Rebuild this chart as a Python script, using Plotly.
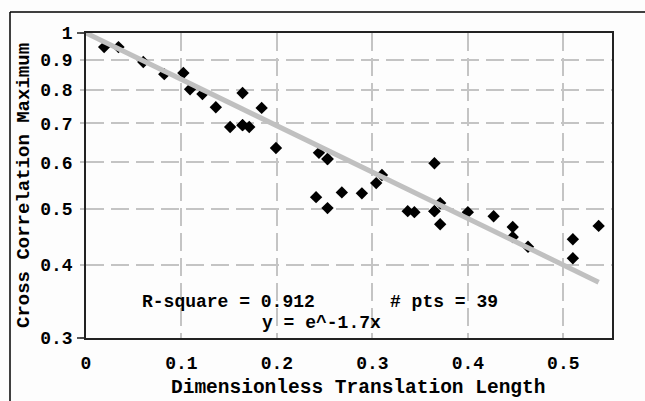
import plotly.graph_objects as go

# Scatter data
pts_x = [0.019, 0.034, 0.060, 0.082, 0.102, 0.109, 0.122, 0.136, 0.151, 0.164,
         0.164, 0.171, 0.184, 0.199, 0.244, 0.253, 0.241, 0.253, 0.268, 0.289,
         0.304, 0.310, 0.337, 0.344, 0.365, 0.365, 0.371, 0.371, 0.400, 0.427,
         0.447, 0.447, 0.463, 0.510, 0.510, 0.537, 0.365, 0.164, 0.253]
pts_y = [0.946, 0.946, 0.892, 0.850, 0.854, 0.801, 0.786, 0.746, 0.690, 0.789,
         0.695, 0.690, 0.744, 0.635, 0.623, 0.608, 0.523, 0.501, 0.533, 0.531,
         0.553, 0.571, 0.495, 0.493, 0.598, 0.495, 0.511, 0.470, 0.493, 0.485,
         0.465, 0.447, 0.430, 0.443, 0.411, 0.467, 0.495, 0.695, 0.608]

# Fitted curve end points
fit_x = [0.0, 0.537]
fit_y = [1.0, 0.374]

x_ticks = [0, 0.1, 0.2, 0.3, 0.4, 0.5]
x_tick_labels = ["0", "0.1", "0.2", "0.3", "0.4", "0.5"]
y_ticks = [0.3, 0.4, 0.5, 0.6, 0.7, 0.8, 0.9, 1]
y_tick_labels = ["0.3", "0.4", "0.5", "0.6", "0.7", "0.8", "0.9", "1"]

FONT = "Liberation Mono"
W, H = 645, 401
L, R, T, B = 86, 612, 33, 338


def px(xp):
    return (xp - L) / (R - L)


def py(yp):
    return (B - yp) / (B - T)


fig = go.Figure()
fig.add_trace(go.Scatter(x=pts_x, y=pts_y, mode="markers",
                         marker=dict(symbol="diamond", size=9.5, color="black"),
                         showlegend=False))
fig.add_trace(go.Scatter(x=fit_x, y=fit_y, mode="lines",
                         line=dict(color="#c0c0c0", width=5),
                         showlegend=False))

grid = dict(showgrid=True, gridcolor="#c4c4c4", gridwidth=2, griddash="18px,7px")

fig.update_xaxes(range=[0, 0.551], tickvals=x_ticks, ticktext=x_tick_labels,
                 showline=True, linecolor="#222", linewidth=1.5, mirror=True,
                 zeroline=False, ticks="", ticklabelstandoff=8, automargin=False,
                 tickfont=dict(family=FONT, size=18, color="black", weight="bold"),
                 **grid)
fig.update_yaxes(type="log", range=[-0.5229, 0], tickvals=y_ticks, ticktext=y_tick_labels,
                 showline=True, linecolor="#222", linewidth=1.5, mirror=True,
                 zeroline=False, ticks="outside", ticklen=4, tickcolor="#c4c4c4", tickwidth=2,
                 ticklabelstandoff=4, automargin=False,
                 tickfont=dict(family=FONT, size=18, color="black", weight="bold"),
                 title=dict(text="Cross Correlation Maximum", standoff=6,
                            font=dict(family=FONT, size=19, color="black", weight="bold")),
                 **grid)

tfont = dict(family=FONT, size=19.5, color="black", weight="bold")
fig.add_annotation(xref="paper", yref="paper", x=px(358), y=py(400), xanchor="center",
                   yanchor="bottom", borderpad=0, text="Dimensionless Translation Length",
                   showarrow=False, font=tfont)

afont = dict(family=FONT, size=18, color="black", weight="bold")
fig.add_annotation(xref="paper", yref="paper", x=px(140), y=py(302), xanchor="left",
                   yanchor="middle", text="R-square = 0.912", showarrow=False, font=afont)
fig.add_annotation(xref="paper", yref="paper", x=px(388), y=py(302), xanchor="left",
                   yanchor="middle", text="# pts = 39", showarrow=False, font=afont)
fig.add_annotation(xref="paper", yref="paper", x=px(260), y=py(323), xanchor="left",
                   yanchor="middle", text="y = e^-1.7x", showarrow=False, font=afont)

shapes = [
    # outer frame (top and left)
    dict(type="line", xref="paper", yref="paper", x0=px(10), x1=px(646), y0=py(12), y1=py(12),
         line=dict(color="black", width=1.5)),
    dict(type="line", xref="paper", yref="paper", x0=px(10), x1=px(10), y0=py(12), y1=py(402),
         line=dict(color="black", width=1.5)),
    # border extensions at top and bottom y ticks
    dict(type="line", xref="paper", yref="paper", x0=px(77), x1=0, y0=1, y1=1,
         line=dict(color="#222", width=1.5)),
    dict(type="line", xref="paper", yref="paper", x0=px(77), x1=0, y0=0, y1=0,
         line=dict(color="#222", width=1.5)),
]

fig.update_layout(width=W, height=H, margin=dict(l=L, r=W - R, t=T, b=H - B),
                  paper_bgcolor="#fdfdfd", plot_bgcolor="#fdfdfd", shapes=shapes,
                  showlegend=False)

fig.write_html("out.html")
